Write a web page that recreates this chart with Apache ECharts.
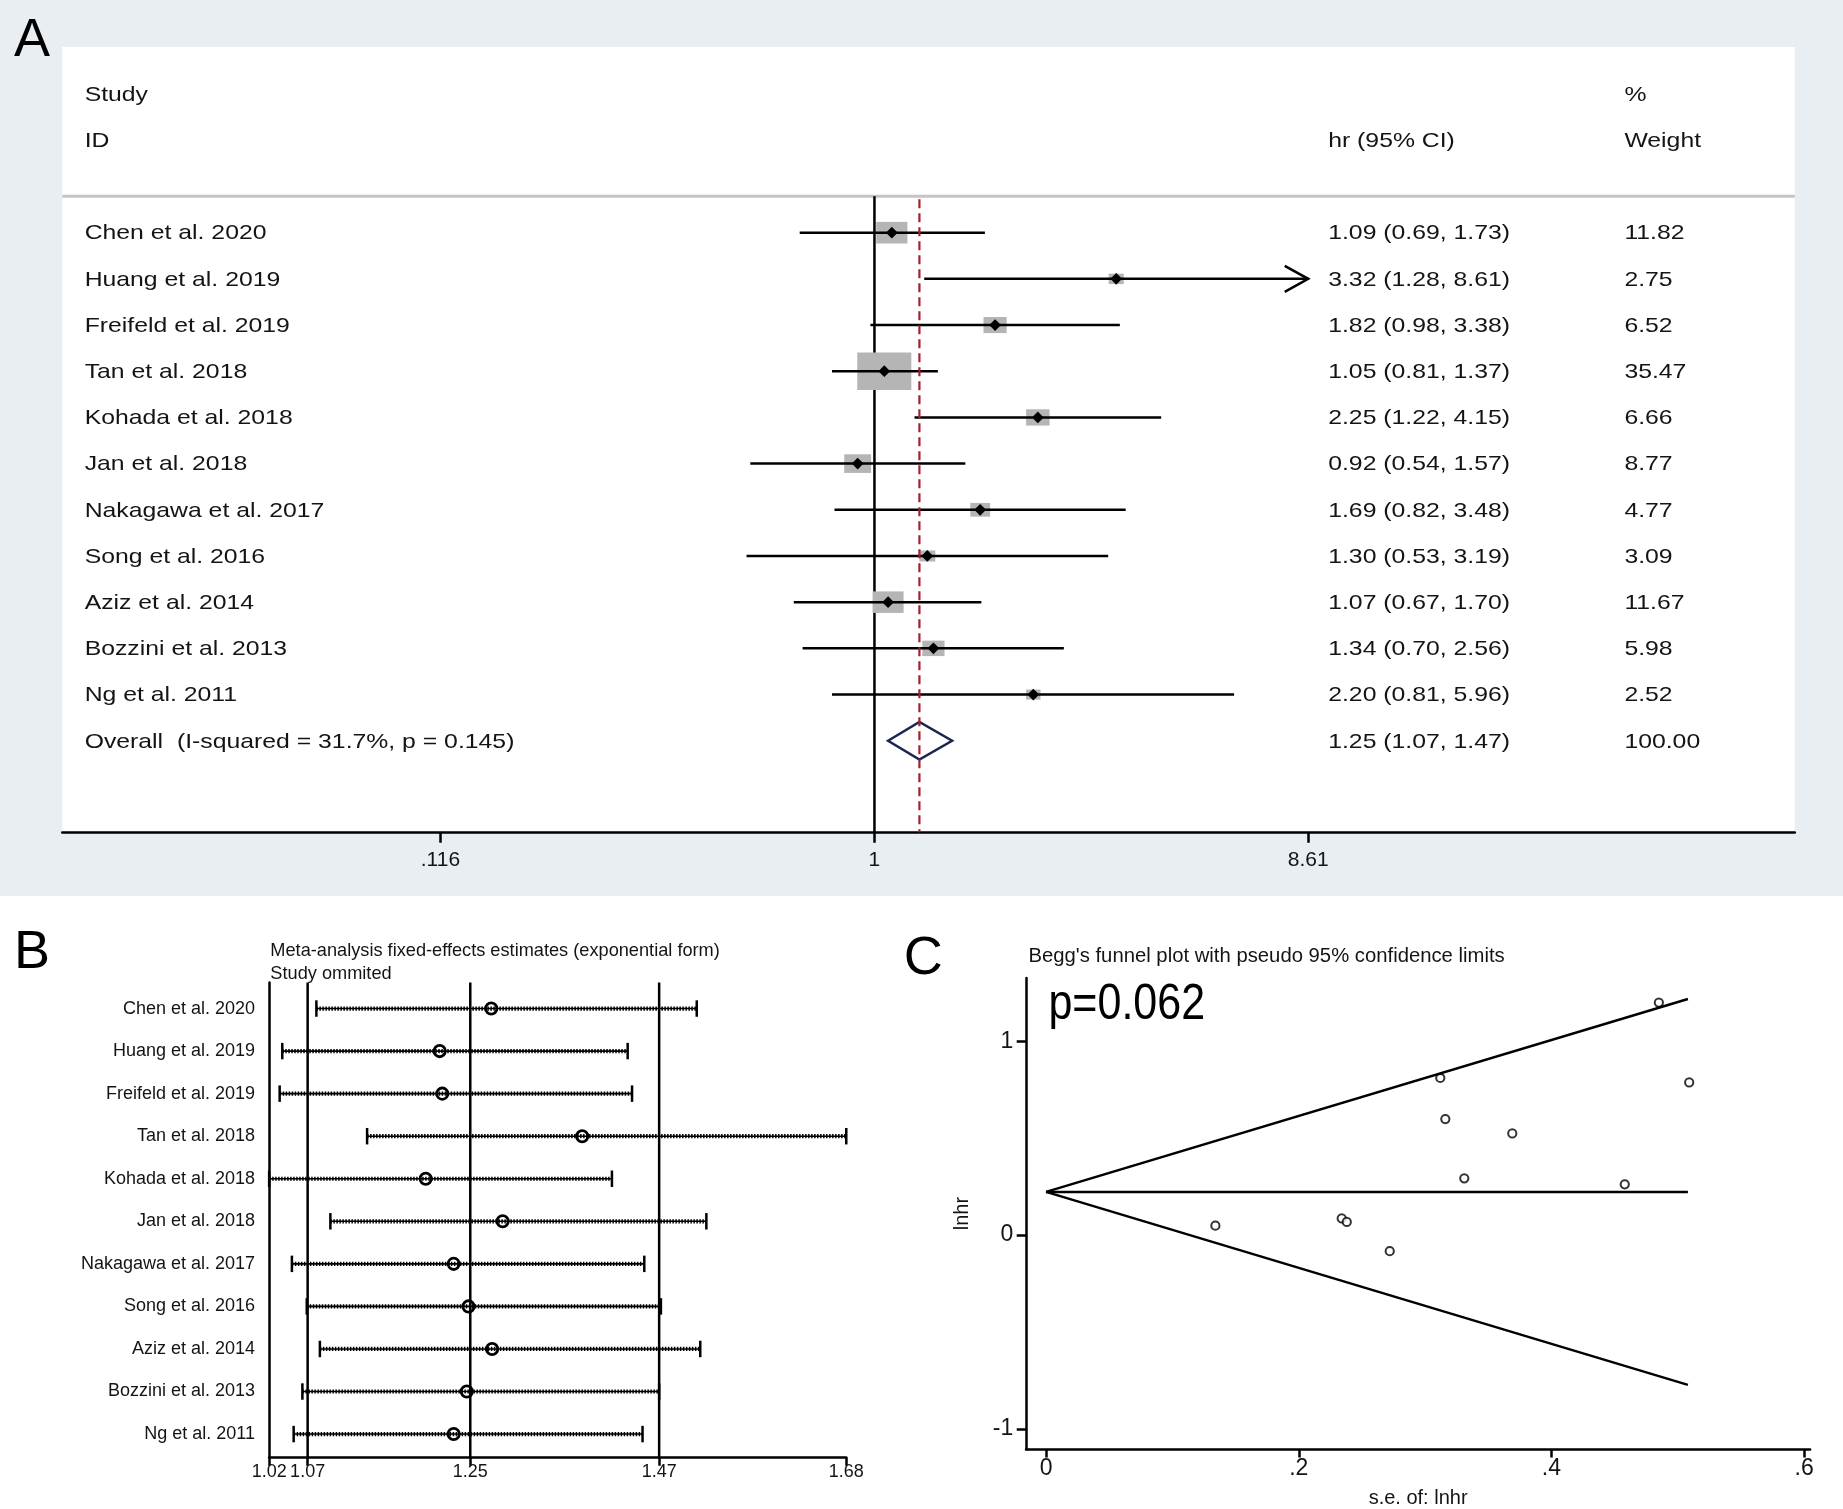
<!DOCTYPE html>
<html>
<head>
<meta charset="utf-8">
<script src="https://cdn.jsdelivr.net/npm/echarts@6.0.0/dist/echarts.min.js"></script>
<style>
  html, body { margin: 0; padding: 0; background: #fff; }
  #main { width: 1843px; height: 1509px; background: linear-gradient(#e8eef1 0, #e8eef1 896px, #fff 896px); }
</style>
</head>
<body>
<div id="main"></div>
<script>
// ---- panel A: forest plot ----
const studies = ['Chen et al. 2020', 'Huang et al. 2019', 'Freifeld et al. 2019', 'Tan et al. 2018',
  'Kohada et al. 2018', 'Jan et al. 2018', 'Nakagawa et al. 2017', 'Song et al. 2016',
  'Aziz et al. 2014', 'Bozzini et al. 2013', 'Ng et al. 2011']
const hr = [1.09, 3.32, 1.82, 1.05, 2.25, 0.92, 1.69, 1.30, 1.07, 1.34, 2.20]
const hrLow = [0.69, 1.28, 0.98, 0.81, 1.22, 0.54, 0.82, 0.53, 0.67, 0.70, 0.81]
const hrHigh = [1.73, 8.61, 3.38, 1.37, 4.15, 1.57, 3.48, 3.19, 1.70, 2.56, 5.96]
const weights = [11.82, 2.75, 6.52, 35.47, 6.66, 8.77, 4.77, 3.09, 11.67, 5.98, 2.52]
const overall = [1.25, 1.07, 1.47]
const overallWeight = '100.00'
const overallLabel = 'Overall  (I-squared = 31.7%, p = 0.145)'
const axisATicks = [0.116, 1, 8.61]
const axisATickLabels = ['.116', '1', '8.61']

// ---- panel B: influence analysis (study omitted) ----
const omitEst = [1.274, 1.215, 1.218, 1.378, 1.199, 1.287, 1.231, 1.248, 1.275, 1.246, 1.231]
const omitLow = [1.074, 1.035, 1.032, 1.132, 1.020, 1.090, 1.046, 1.063, 1.078, 1.058, 1.048]
const omitHigh = [1.509, 1.430, 1.435, 1.680, 1.412, 1.520, 1.449, 1.468, 1.513, 1.466, 1.447]
const omitRef = [1.064, 1.25, 1.466]
const axisBTicks = [1.02, 1.064, 1.25, 1.466, 1.68]
const axisBTickLabels = ['1.02', '1.07', '1.25', '1.47', '1.68']

// ---- panel C: Begg's funnel plot ----
const seLnhr = [0.234, 0.485, 0.316, 0.134, 0.312, 0.272, 0.369, 0.458, 0.238, 0.331, 0.509]
const lnhr = [0.086, 1.200, 0.599, 0.049, 0.811, -0.083, 0.525, 0.262, 0.068, 0.293, 0.788]
const funnelSe = [0, 0.508]
const funnelMid = 0.223
const funnelUpper = 1.219
const funnelLower = -0.773
const axisCXTicks = [0, 0.2, 0.4, 0.6]
const axisCXLabels = ['0', '.2', '.4', '.6']
const axisCYTicks = [-1, 0, 1]

// reference was measured at 1568px wide
const S = 1843 / 1568
const px = v => v * S

const SANS = '"Liberation Sans", Arial, Helvetica, sans-serif'
const WIDE = 1.18
const SEP_ROW = 0.21

const chart = echarts.init(document.getElementById('main'), null, { renderer: 'canvas' })

function nearestLabel(v, ticks, labels, tf) {
  let best = 0
  ticks.forEach((t, i) => {
    if (Math.abs(tf(t) - v) < Math.abs(tf(ticks[best]) - v)) best = i
  })
  return labels[best]
}

function wideText(x, y, text, align) {
  return {
    type: 'text', x: x, y: y, scaleX: WIDE,
    style: { text: text, x: 0, y: 0, fill: '#141414', font: '21px ' + SANS,
      textAlign: align || 'left', textVerticalAlign: 'middle', verticalAlign: 'middle' }
  }
}

function fmt(v) { return v.toFixed(2) }

function renderStudy(params, api) {
  const i = api.value(0)
  const row = i + 1
  const [xl, y] = api.coord([Math.log(hrLow[i]), row])
  const [xh] = api.coord([Math.log(hrHigh[i]), row])
  const [xm] = api.coord([Math.log(hr[i]), row])
  const bw = px(46) * Math.sqrt(weights[i] / 35.47)
  const bh = bw / 1.44
  const d = px(5)
  const children = [
    { type: 'rect', shape: { x: xm - bw / 2, y: y - bh / 2, width: bw, height: bh }, style: { fill: '#b5b5b5' } },
    { type: 'line', shape: { x1: xl, y1: y, x2: xh, y2: y }, style: { stroke: '#000', lineWidth: 2.5 } },
    { type: 'polygon', shape: { points: [[xm - d, y], [xm, y - d], [xm + d, y], [xm, y + d]] }, style: { fill: '#000' } },
    wideText(px(72), y + 1, studies[i]),
    wideText(px(1130), y + 1, fmt(hr[i]) + ' (' + fmt(hrLow[i]) + ', ' + fmt(hrHigh[i]) + ')'),
    wideText(px(1382), y + 1, fmt(weights[i]))
  ]
  if (hrHigh[i] >= axisATicks[axisATicks.length - 1]) {
    children.push({ type: 'polyline', shape: { points: [[xh - px(20), y - px(11)], [xh, y], [xh - px(20), y + px(11)]] },
      style: { stroke: '#000', lineWidth: 2.5, fill: 'none' } })
  }
  return { type: 'group', children: children }
}

function renderFrame(params, api) {
  const cs = params.coordSys
  const [x0, ySep] = api.coord([0, SEP_ROW])
  const yBot = cs.y + cs.height
  const [, yStudy] = api.coord([0, -2])
  const [, yId] = api.coord([0, -1])
  return { type: 'group', children: [
    { type: 'line', shape: { x1: cs.x, y1: ySep, x2: cs.x + cs.width, y2: ySep }, style: { stroke: '#c4c4c4', lineWidth: 3 } },
    { type: 'line', shape: { x1: x0, y1: ySep, x2: x0, y2: yBot }, style: { stroke: '#000', lineWidth: 2.5 } },
    wideText(px(72), yStudy + 1, 'Study'),
    wideText(px(72), yId + 1, 'ID'),
    wideText(px(1130), yId + 1, 'hr (95% CI)'),
    wideText(px(1382), yStudy + 1, '%'),
    wideText(px(1382), yId + 1, 'Weight')
  ] }
}

function renderPooled(params, api) {
  const cs = params.coordSys
  const row = studies.length + 1
  const [xm, y] = api.coord([Math.log(overall[0]), row])
  const [xl] = api.coord([Math.log(overall[1]), row])
  const [xh] = api.coord([Math.log(overall[2]), row])
  const [, ySep] = api.coord([0, SEP_ROW])
  const h = px(16)
  return { type: 'group', children: [
    { type: 'polygon', shape: { points: [[xl, y], [xm, y - h], [xh, y], [xm, y + h]] },
      style: { fill: '#fff', stroke: '#1b2552', lineWidth: 2.5 } },
    { type: 'line', shape: { x1: xm, y1: ySep + 3, x2: xm, y2: cs.y + cs.height }, style: { stroke: '#a3202c', lineWidth: 2.2, lineDash: [9, 5] } },
    wideText(px(72), y + 1, overallLabel),
    wideText(px(1130), y + 1, fmt(overall[0]) + ' (' + fmt(overall[1]) + ', ' + fmt(overall[2]) + ')'),
    wideText(px(1382), y + 1, overallWeight)
  ] }
}

function renderOmit(params, api) {
  const i = api.value(0)
  const [xl, y] = api.coord([omitLow[i], i + 1])
  const [xh] = api.coord([omitHigh[i], i + 1])
  const [xm] = api.coord([omitEst[i], i + 1])
  const cap = px(7)
  return { type: 'group', children: [
    { type: 'line', shape: { x1: xl, y1: y, x2: xh, y2: y }, style: { stroke: '#000', lineWidth: 1.6 } },
    { type: 'line', shape: { x1: xl, y1: y, x2: xh, y2: y }, style: { stroke: '#000', lineWidth: 4.2, lineDash: [1.5, 1.5] } },
    { type: 'line', shape: { x1: xl, y1: y - cap, x2: xl, y2: y + cap }, style: { stroke: '#000', lineWidth: 2.5 } },
    { type: 'line', shape: { x1: xh, y1: y - cap, x2: xh, y2: y + cap }, style: { stroke: '#000', lineWidth: 2.5 } },
    { type: 'circle', shape: { cx: xm, cy: y, r: px(4.8) }, style: { fill: 'none', stroke: '#000', lineWidth: 2.8 } }
  ] }
}

function renderRefB(params, api) {
  const cs = params.coordSys
  const [x] = api.coord([api.value(0), 1])
  return { type: 'line', shape: { x1: x, y1: cs.y, x2: x, y2: cs.y + cs.height }, style: { stroke: '#000', lineWidth: 2.5 } }
}

const axisLineStyle = { color: '#000', width: 2.5 }
const idx = studies.map((s, i) => [i])

chart.setOption({
  animation: false,
  backgroundColor: 'transparent',
  grid: [
    { left: px(53), top: px(40), width: px(1527 - 53), height: px(708 - 40), show: true, backgroundColor: '#fff', borderWidth: 0 },
    { left: px(229), top: px(836), width: px(720 - 229), height: px(1240 - 836) },
    { left: px(873), top: px(832), width: px(1540 - 873), height: px(1248 - 832) }
  ],
  xAxis: [
    { gridIndex: 0, type: 'value', min: -4.031, max: 4.568, splitLine: { show: false },
      axisLine: { onZero: false, lineStyle: axisLineStyle },
      axisTick: { customValues: axisATicks.map(Math.log), length: px(9), lineStyle: axisLineStyle },
      axisLabel: { customValues: axisATicks.map(Math.log), margin: px(15), color: '#141414', fontSize: 21, fontFamily: SANS,
        formatter: v => nearestLabel(v, axisATicks, axisATickLabels, Math.log) } },
    { gridIndex: 1, type: 'value', min: 1.02, max: 1.68, splitLine: { show: false },
      axisLine: { onZero: false, lineStyle: axisLineStyle },
      axisTick: { customValues: axisBTicks, length: px(7), lineStyle: axisLineStyle },
      axisLabel: { customValues: axisBTicks, margin: px(5), color: '#141414', fontSize: 18, fontFamily: SANS,
        formatter: v => nearestLabel(v, axisBTicks, axisBTickLabels, t => t) } },
    { gridIndex: 2, type: 'value', min: -0.0158, max: 0.6047, splitLine: { show: false },
      name: 's.e. of: lnhr', nameLocation: 'middle', nameGap: px(33),
      nameTextStyle: { color: '#141414', fontSize: 20, fontFamily: SANS },
      axisLine: { onZero: false, lineStyle: axisLineStyle },
      axisTick: { customValues: axisCXTicks, length: px(7), lineStyle: axisLineStyle },
      axisLabel: { customValues: axisCXTicks, margin: px(7), color: '#141414', fontSize: 23, fontFamily: SANS,
        formatter: v => nearestLabel(v, axisCXTicks, axisCXLabels, t => t) } }
  ],
  yAxis: [
    { gridIndex: 0, type: 'value', min: -3.02, max: 13.98, inverse: true, show: false },
    { gridIndex: 1, type: 'value', min: 0.391, max: 11.55, inverse: true, splitLine: { show: false },
      axisLine: { onZero: false, lineStyle: axisLineStyle }, axisTick: { show: false },
      axisLabel: { customValues: studies.map((s, i) => i + 1), margin: px(12), color: '#141414', fontSize: 18, fontFamily: SANS,
        formatter: v => studies[Math.round(v) - 1] } },
    { gridIndex: 2, type: 'value', min: -1.105, max: 1.3275, splitLine: { show: false },
      name: 'lnhr', nameLocation: 'middle', nameGap: px(46), nameRotate: 90,
      nameTextStyle: { color: '#141414', fontSize: 20, fontFamily: SANS },
      axisLine: { onZero: false, lineStyle: axisLineStyle },
      axisTick: { customValues: axisCYTicks, length: px(8), lineStyle: axisLineStyle },
      axisLabel: { customValues: axisCYTicks, margin: px(11), color: '#141414', fontSize: 23, fontFamily: SANS } }
  ],
  graphic: [
    { type: 'text', left: px(12), top: px(12), style: { text: 'A', fill: '#000', font: '54px ' + SANS } },
    { type: 'text', left: px(12), top: px(788), style: { text: 'B', fill: '#000', font: '54px ' + SANS } },
    { type: 'text', left: px(769), top: px(793), style: { text: 'C', fill: '#000', font: '54px ' + SANS } },
    { type: 'text', left: px(230), top: px(801), style: { text: 'Meta-analysis fixed-effects estimates (exponential form)', fill: '#141414', font: '18.2px ' + SANS } },
    { type: 'text', left: px(230), top: px(821), style: { text: 'Study ommited', fill: '#141414', font: '18.2px ' + SANS } },
    { type: 'text', left: px(875), top: px(805), style: { text: "Begg's funnel plot with pseudo 95% confidence limits", fill: '#141414', font: '20.3px ' + SANS } },
    { type: 'text', x: px(892), y: px(855), scaleX: 0.86,
      style: { text: 'p=0.062', x: 0, y: 0, fill: '#000', font: '50px ' + SANS, textVerticalAlign: 'middle', verticalAlign: 'middle' } }
  ],
  series: [
    { type: 'custom', name: 'frame', xAxisIndex: 0, yAxisIndex: 0, z: 1, data: [[0]], renderItem: renderFrame },
    { type: 'custom', name: 'studies', xAxisIndex: 0, yAxisIndex: 0, z: 2, data: idx, renderItem: renderStudy },
    { type: 'custom', name: 'pooled', xAxisIndex: 0, yAxisIndex: 0, z: 3, data: [[0]], renderItem: renderPooled },
    { type: 'custom', name: 'refB', xAxisIndex: 1, yAxisIndex: 1, z: 1, data: omitRef.map(v => [v]), renderItem: renderRefB },
    { type: 'custom', name: 'omitted', xAxisIndex: 1, yAxisIndex: 1, z: 2, data: idx, renderItem: renderOmit },
    { type: 'line', name: 'upper', xAxisIndex: 2, yAxisIndex: 2, symbol: 'none', lineStyle: { color: '#000', width: 2.5 },
      data: [[funnelSe[0], funnelMid], [funnelSe[1], funnelUpper]] },
    { type: 'line', name: 'mid', xAxisIndex: 2, yAxisIndex: 2, symbol: 'none', lineStyle: { color: '#000', width: 2.5 },
      data: [[funnelSe[0], funnelMid], [funnelSe[1], funnelMid]] },
    { type: 'line', name: 'lower', xAxisIndex: 2, yAxisIndex: 2, symbol: 'none', lineStyle: { color: '#000', width: 2.5 },
      data: [[funnelSe[0], funnelMid], [funnelSe[1], funnelLower]] },
    { type: 'scatter', name: 'studies', xAxisIndex: 2, yAxisIndex: 2, symbol: 'emptyCircle', symbolSize: px(7),
      itemStyle: { color: '#000', borderWidth: 2.2 }, data: seLnhr.map((s, i) => [s, lnhr[i]]) }
  ]
})
</script>
</body>
</html>
